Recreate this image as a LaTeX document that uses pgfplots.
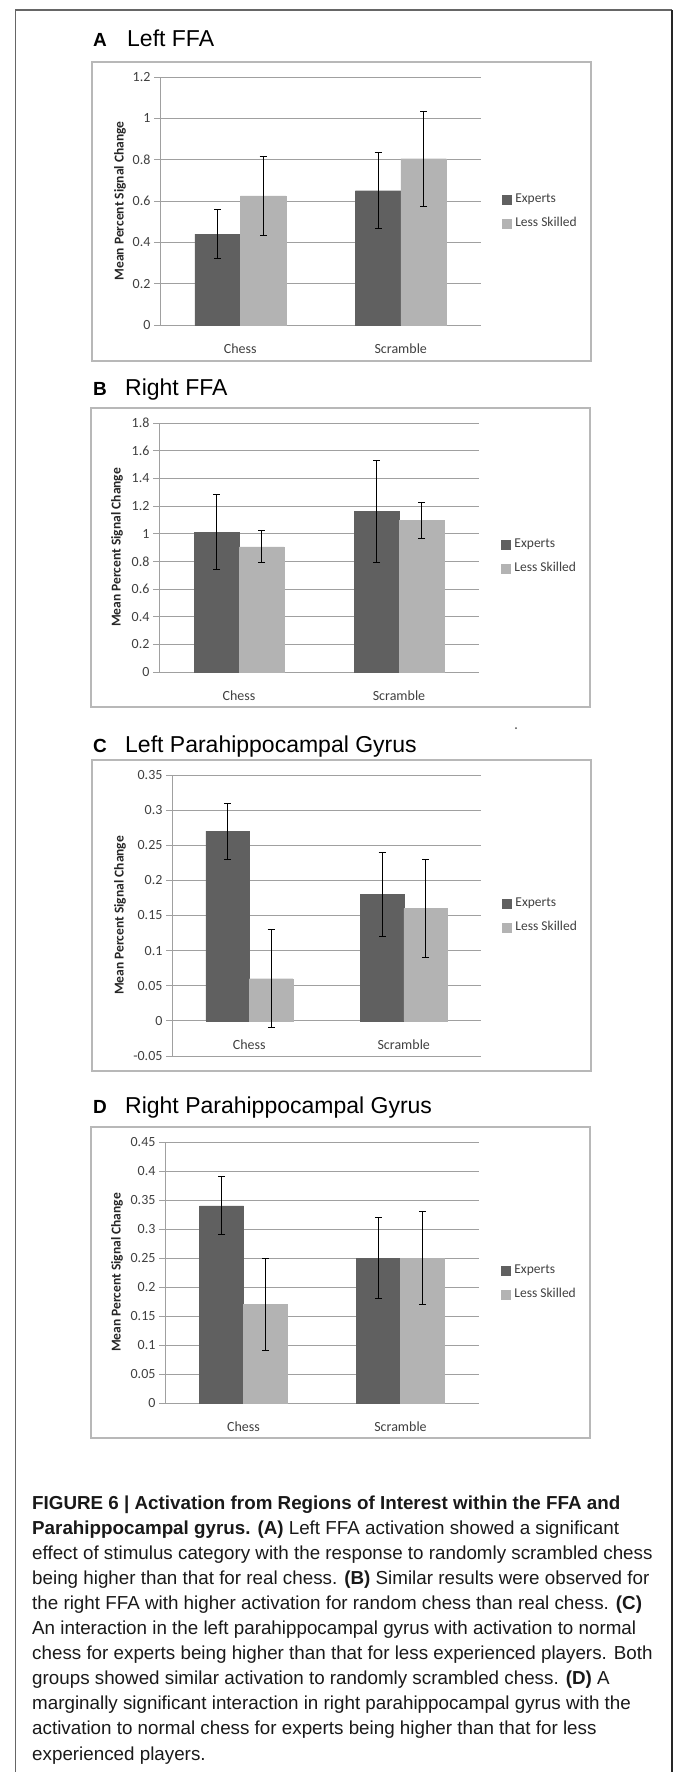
\documentclass[border=0pt]{standalone}
\usepackage{fontspec}
\setmainfont{Liberation Sans}
\newfontfamily\calibri{Carlito}
\usepackage{pgfplots}
\usepackage{pgfplotstable}
\pgfplotsset{compat=1.18}

\definecolor{expcol}{HTML}{606060}
\definecolor{lesscol}{HTML}{B3B3B3}
\definecolor{gridcol}{HTML}{A0A0A0}
\definecolor{boxcol}{HTML}{B8B8B8}
\definecolor{txtcol}{HTML}{404040}

% one table per panel and group: category, mean, error
\pgfplotstableread{
x y e
0 0.44 0.12
1 0.65 0.185
}\aexp
\pgfplotstableread{
x y e
0 0.625 0.19
1 0.805 0.23
}\aless
\pgfplotstableread{
x y e
0 1.01 0.27
1 1.16 0.37
}\bexp
\pgfplotstableread{
x y e
0 0.905 0.115
1 1.095 0.13
}\bless
\pgfplotstableread{
x y e
0 0.27 0.04
1 0.18 0.06
}\cexp
\pgfplotstableread{
x y e
0 0.06 0.07
1 0.16 0.07
}\cless
\pgfplotstableread{
x y e
0 0.34 0.05
1 0.25 0.07
}\dexp
\pgfplotstableread{
x y e
0 0.17 0.08
1 0.25 0.08
}\dless

\pgfplotsset{
  sqleg/.style={legend image code/.code={\fill[##1] (0pt,-4.5pt) rectangle (9pt,4.5pt); \path (12pt,0pt);}},
  expbar/.style={fill=expcol, draw=expcol, line width=0.2pt, sqleg},
  lessbar/.style={fill=lesscol, draw=lesscol, line width=0.2pt, sqleg},
  roi/.style={
    scale only axis, anchor=south west,
    ybar=0pt,
    xmin=-0.5, xmax=1.5, enlargelimits=false,
    xtick={0,1}, xticklabels={Chess,Scramble},
    xtick style={draw=none},
    scaled ticks=false,
    axis lines*=left,
    axis line style={-, draw=gridcol, line width=1pt},
    ymajorgrids, grid style={draw=gridcol, line width=1pt},
    ytick style={draw=gridcol, line width=1pt},
    major tick length=6pt, ytick align=outside,
    tick label style={font=\calibri\fontsize{14}{16}\selectfont, text=txtcol},
    /pgf/number format/assume math mode=true,
    xticklabel style={anchor=center, yshift=-18pt},
    ylabel={Mean Percent Signal Change},
    ylabel style={font=\calibri\bfseries\fontsize{13.5}{15}\selectfont,
      text=black!85, anchor=center},
    legend style={draw=none, fill=none, anchor=west, inner sep=0pt,
      font=\calibri\fontsize{13.5}{15}\selectfont, text=txtcol,
      row sep=10pt, legend cell align=left,
      nodes={inner sep=1pt, text height=9pt, text depth=3pt}},
    error bars/y dir=both, error bars/y explicit,
    error bars/error mark=-,
    error bars/error mark options={rotate=90, draw=black, mark size=3.5pt, line width=0.9pt},
    error bars/error bar style={draw=black, line width=0.9pt},
  },
}

\begin{document}
\begin{tikzpicture}[x=1pt,y=1pt]
\useasboundingbox (0,0) rectangle (673,-1772);

% outer frame
\draw[line width=1.5pt, black!60] (15.5,-1790) -- (15.5,-10) -- (672,-10);
\draw[line width=2pt, black!85] (672,-10) -- (672,-1790);

% chart area borders
\draw[line width=1.2pt, boxcol] (92,-62) rectangle (591,-361);
\draw[line width=1.2pt, boxcol] (91,-408) rectangle (590,-707);
\draw[line width=1.2pt, boxcol] (92,-760) rectangle (591,-1071);
\draw[line width=1.2pt, boxcol] (91,-1127) rectangle (590,-1438);
\fill[black!70] (516,-728) circle (1pt);

% panel titles
\node[anchor=base west, inner sep=0pt, font=\bfseries\fontsize{19}{22}\selectfont] at (93,-46) {A};
\node[anchor=base west, inner sep=0pt, font=\fontsize{23}{26}\selectfont] at (127,-46) {Left FFA};
\node[anchor=base west, inner sep=0pt, font=\bfseries\fontsize{19}{22}\selectfont] at (93,-395) {B};
\node[anchor=base west, inner sep=0pt, font=\fontsize{23}{26}\selectfont] at (125,-395) {Right FFA};
\node[anchor=base west, inner sep=0pt, font=\bfseries\fontsize{19}{22}\selectfont] at (93,-752) {C};
\node[anchor=base west, inner sep=0pt, font=\fontsize{23}{26}\selectfont] at (125,-752) {Left Parahippocampal Gyrus};
\node[anchor=base west, inner sep=0pt, font=\bfseries\fontsize{19}{22}\selectfont] at (93,-1113) {D};
\node[anchor=base west, inner sep=0pt, font=\fontsize{23}{26}\selectfont] at (125,-1113) {Right Parahippocampal Gyrus};

% A Left FFA
\begin{axis}[roi, at={(160pt,-325pt)}, width=321pt, height=248pt,
    ymin=0, ymax=1.2, ytick={0,0.2,0.4,0.6,0.8,1,1.2},
    bar width=45.5pt,
    ylabel style={at={(axis description cs:-0.1246,0.5)}},
    legend style={at={(1.065,0.456)}}]
  \addplot[expbar] table[x=x, y=y, y error=e] {\aexp};
  \addlegendentry{Experts}
  \addplot[lessbar] table[x=x, y=y, y error=e] {\aless};
  \addlegendentry{Less Skilled}
\end{axis}

% B Right FFA
\begin{axis}[roi, at={(159pt,-672pt)}, width=320pt, height=249pt,
    ymin=0, ymax=1.8, ytick={0,0.2,0.4,0.6,0.8,1,1.2,1.4,1.6,1.8},
    bar width=45pt,
    ylabel style={at={(axis description cs:-0.1313,0.5)}},
    legend style={at={(1.069,0.462)}}]
  \addplot[expbar] table[x=x, y=y, y error=e] {\bexp};
  \addlegendentry{Experts}
  \addplot[lessbar] table[x=x, y=y, y error=e] {\bless};
  \addlegendentry{Less Skilled}
\end{axis}

% C Left parahippocampal gyrus
\begin{axis}[roi, at={(172pt,-1056pt)}, width=309pt, height=281pt,
    ymin=-0.05, ymax=0.35, ytick={-0.05,0,0.05,0.1,0.15,0.2,0.25,0.3,0.35},
    yticklabels={-0.05,0,0.05,0.1,0.15,0.2,0.25,0.3,0.35},
    bar width=43.5pt,
    xticklabel style={yshift=35.2pt},
    ylabel style={at={(axis description cs:-0.1683,0.5)}},
    legend style={at={(1.068,0.5)}}]
  \addplot[expbar] table[x=x, y=y, y error=e] {\cexp};
  \addlegendentry{Experts}
  \addplot[lessbar] table[x=x, y=y, y error=e] {\cless};
  \addlegendentry{Less Skilled}
\end{axis}

% D Right parahippocampal gyrus
\begin{axis}[roi, at={(165pt,-1403pt)}, width=314pt, height=261pt,
    ymin=0, ymax=0.45, ytick={0,0.05,0.1,0.15,0.2,0.25,0.3,0.35,0.4,0.45},
    yticklabels={0,0.05,0.1,0.15,0.2,0.25,0.3,0.35,0.4,0.45},
    bar width=44pt,
    ylabel style={at={(axis description cs:-0.1529,0.5)}},
    legend style={at={(1.07,0.462)}}]
  \addplot[expbar] table[x=x, y=y, y error=e] {\dexp};
  \addlegendentry{Experts}
  \addplot[lessbar] table[x=x, y=y, y error=e] {\dless};
  \addlegendentry{Less Skilled}
\end{axis}

% caption
\begin{scope}[every node/.style={anchor=base west, inner sep=0pt,
    font=\fontsize{18.8}{25}\selectfont, text=black!90}]
\node at (32,-1509.0) {\bfseries FIGURE 6 | Activation from Regions of Interest within the FFA and};
\node at (32,-1534.1) {\textbf{Parahippocampal gyrus. (A)} Left FFA activation showed a significant};
\node at (32,-1559.2) {effect of stimulus category with the response to randomly scrambled chess};
\node at (32,-1584.3) {being higher than that for real chess. \textbf{(B)} Similar results were observed for};
\node at (32,-1609.4) {the right FFA with higher activation for random chess than real chess. \textbf{(C)}};
\node at (32,-1634.5) {An interaction in the left parahippocampal gyrus with activation to normal};
\node at (32,-1659.6) {chess for experts being higher than that for less experienced players. Both};
\node at (32,-1684.7) {groups showed similar activation to randomly scrambled chess. \textbf{(D)} A};
\node at (32,-1709.8) {marginally significant interaction in right parahippocampal gyrus with the};
\node at (32,-1734.9) {activation to normal chess for experts being higher than that for less};
\node at (32,-1760.0) {experienced players.};
\end{scope}
\end{tikzpicture}
\end{document}
